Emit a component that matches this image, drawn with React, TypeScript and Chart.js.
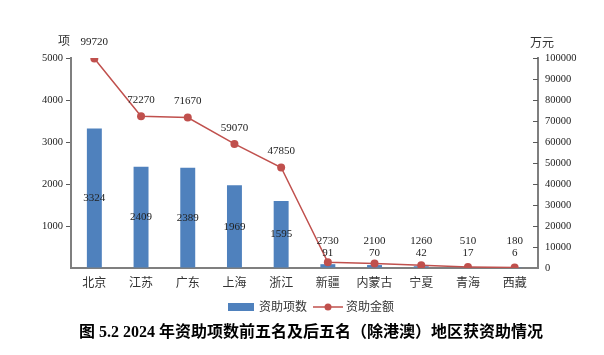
import React, { useEffect, useRef } from "react";
import { Chart, registerables } from "chart.js";

Chart.register(...registerables);

const categories = ["北京", "江苏", "广东", "上海", "浙江", "新疆", "内蒙古", "宁夏", "青海", "西藏"];
const projectCounts = [3324, 2409, 2389, 1969, 1595, 91, 70, 42, 17, 6];
const fundingAmounts = [99720, 72270, 71670, 59070, 47850, 2730, 2100, 1260, 510, 180];
const leftTicks = [0, 1000, 2000, 3000, 4000, 5000];
const rightTicks = [0, 10000, 20000, 30000, 40000, 50000, 60000, 70000, 80000, 90000, 100000];
const titleText = "图 5.2 2024 年资助项数前五名及后五名（除港澳）地区获资助情况";
const seriesNames = ["资助项数", "资助金额"];

const BAR_COLOR = "#4F81BD";
const LINE_COLOR = "#C0504D";
const SERIF = '"Liberation Serif", "Noto Sans CJK SC", serif';

const overlayPlugin = {
  id: "overlay",
  afterDraw(chart: any) {
    const ctx = chart.ctx;
    const yL = chart.scales.y;
    const yR = chart.scales.y1;
    const area = chart.chartArea;
    ctx.save();
    // right axis inward ticks
    ctx.strokeStyle = "#595959";
    ctx.lineWidth = 1;
    rightTicks.forEach((v) => {
      if (v === 0) return;
      const py = Math.round(yR.getPixelForValue(v)) + 0.5;
      ctx.beginPath();
      ctx.moveTo(area.right - 5, py);
      ctx.lineTo(area.right, py);
      ctx.stroke();
    });
    // bar labels
    ctx.fillStyle = "#222";
    ctx.font = `11px ${SERIF}`;
    ctx.textAlign = "center";
    ctx.textBaseline = "middle";
    const barMeta = chart.getDatasetMeta(0);
    barMeta.data.forEach((el: any, i: number) => {
      const base = yL.getPixelForValue(0);
      const center = (el.y + base) / 2;
      const y = Math.min(center, 253);
      ctx.fillText(String(projectCounts[i]), el.x, y);
    });
    // line labels
    const lineMeta = chart.getDatasetMeta(1);
    ctx.font = `11px ${SERIF}`;
    lineMeta.data.forEach((el: any, i: number) => {
      const y = Math.min(el.y - 16, 241);
      ctx.fillText(String(fundingAmounts[i]), el.x, y);
    });
    // axis titles
    ctx.font = `12px ${SERIF}`;
    ctx.fillStyle = "#333";
    ctx.fillText("项", 64, 42);
    ctx.fillText("万元", 542, 44);
    // legend
    ctx.fillStyle = BAR_COLOR;
    ctx.fillRect(228, 303, 26, 8);
    ctx.fillStyle = "#333";
    ctx.textAlign = "left";
    ctx.font = `12px ${SERIF}`;
    ctx.fillText(seriesNames[0], 259, 307.5);
    ctx.strokeStyle = LINE_COLOR;
    ctx.lineWidth = 1.5;
    ctx.beginPath();
    ctx.moveTo(313, 307);
    ctx.lineTo(343, 307);
    ctx.stroke();
    ctx.fillStyle = LINE_COLOR;
    ctx.beginPath();
    ctx.arc(328, 307, 3.5, 0, Math.PI * 2);
    ctx.fill();
    ctx.fillStyle = "#333";
    ctx.fillText(seriesNames[1], 346, 307.5);
    // title
    ctx.fillStyle = "#000";
    ctx.textAlign = "center";
    ctx.font = `bold 16px ${SERIF}`;
    ctx.fillText(titleText, 311, 333);
    ctx.restore();
  },
};

export default function App() {
  const ref = useRef<HTMLCanvasElement | null>(null);
  useEffect(() => {
    if (!ref.current) return;
    const chart = new Chart(ref.current, {
      type: "bar",
      data: {
        labels: categories,
        datasets: [
          {
            type: "bar",
            label: seriesNames[0],
            data: projectCounts,
            backgroundColor: BAR_COLOR,
            yAxisID: "y",
            barPercentage: 0.32,
            categoryPercentage: 1,
            order: 2,
          },
          {
            type: "line",
            label: seriesNames[1],
            data: fundingAmounts,
            borderColor: LINE_COLOR,
            backgroundColor: LINE_COLOR,
            borderWidth: 1.5,
            pointRadius: 4,
            pointBackgroundColor: LINE_COLOR,
            pointBorderWidth: 0,
            yAxisID: "y1",
            order: 1,
          },
        ] as any,
      },
      options: {
        animation: false,
        responsive: true,
        maintainAspectRatio: false,
        layout: { padding: { top: 58, bottom: 62, left: 0, right: 0 } },
        plugins: {
          legend: { display: false },
          title: { display: false },
          tooltip: { enabled: false },
        },
        scales: {
          x: {
            offset: true,
            grid: { display: false, drawTicks: false },
            border: { display: true, color: "#7F7F7F", width: 2 },
            ticks: {
              color: "#333",
              font: { size: 12, family: SERIF },
              padding: 9,
              maxRotation: 0,
              autoSkip: false,
            },
            afterFit: (s: any) => {
              s.height = 25;
            },
          },
          y: {
            position: "left",
            min: 0,
            max: 5000,
            afterBuildTicks: (s: any) => {
              s.ticks = leftTicks.map((v) => ({ value: v }));
            },
            grid: {
              display: true,
              drawOnChartArea: false,
              drawTicks: true,
              tickLength: 5,
              color: (c: any) => (c.tick && c.tick.value === 0 ? "rgba(0,0,0,0)" : "#595959"),
            },
            border: { display: true, color: "#7F7F7F", width: 2 },
            ticks: {
              color: "#222",
              font: { size: 10.5, family: SERIF },
              padding: 3,
              callback: (v: any) => (v === 0 ? "" : String(v)),
            },
            afterFit: (s: any) => {
              s.width = 71;
            },
          },
          y1: {
            position: "right",
            min: 0,
            max: 100000,
            afterBuildTicks: (s: any) => {
              s.ticks = rightTicks.map((v) => ({ value: v }));
            },
            grid: { display: false, drawTicks: false },
            border: { display: true, color: "#7F7F7F", width: 2 },
            ticks: {
              color: "#222",
              font: { size: 10.5, family: SERIF },
              padding: 7,
              callback: (v: any) => String(v),
            },
            afterFit: (s: any) => {
              s.width = 66;
            },
          },
        },
      } as any,
      plugins: [overlayPlugin],
    });
    return () => chart.destroy();
  }, []);
  return (
    <div style={{ position: "fixed", left: 0, top: 0, width: 604, height: 355, background: "#fff" }}>
      <canvas ref={ref} />
    </div>
  );
}
